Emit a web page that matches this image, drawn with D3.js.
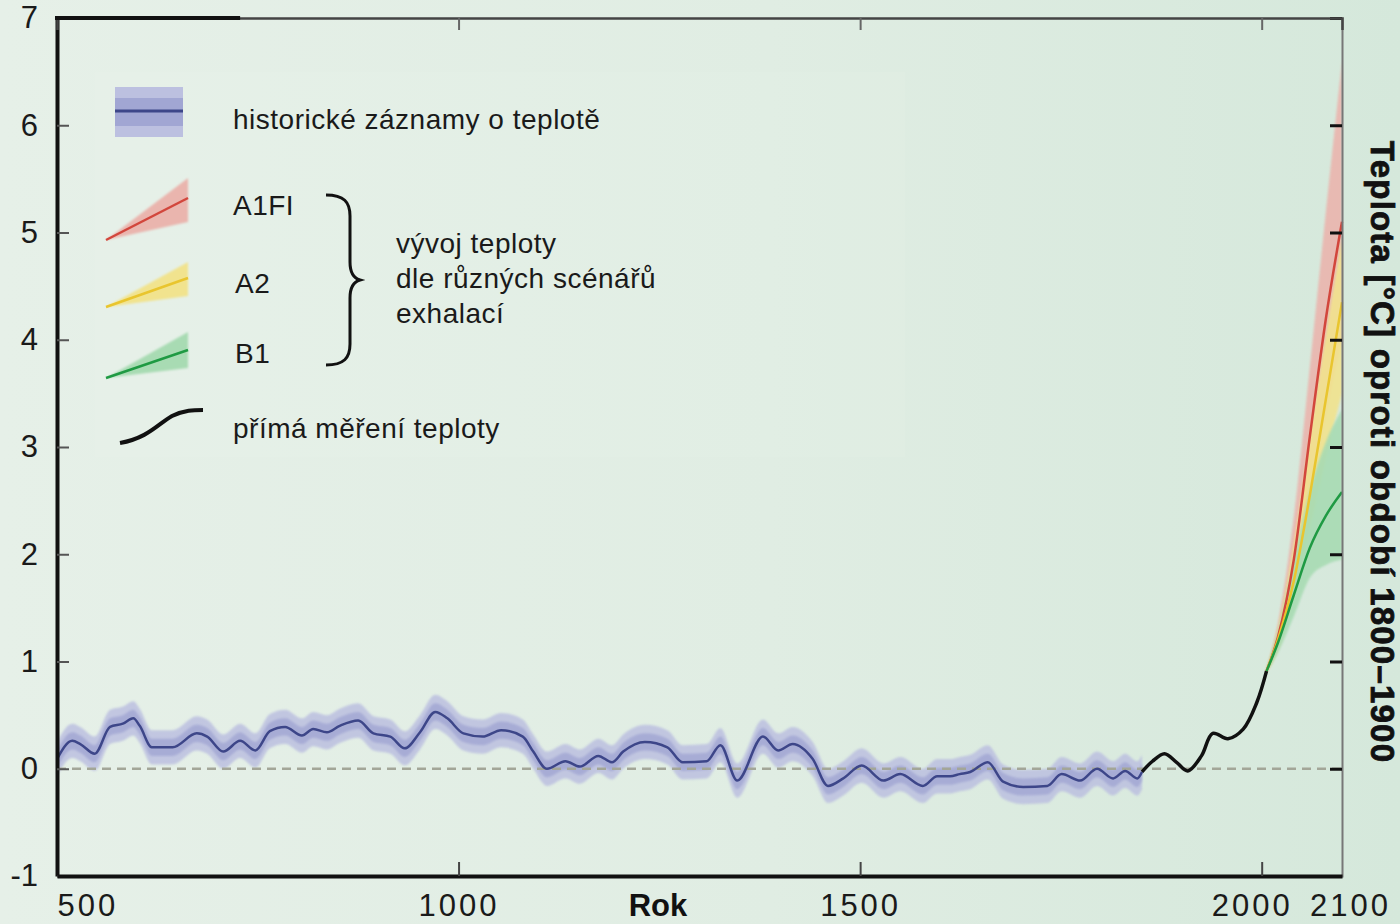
<!DOCTYPE html>
<html>
<head>
<meta charset="utf-8">
<script src="https://cdn.jsdelivr.net/npm/d3@7"></script>
<style>
  body { margin: 0; background: #e0ede3; }
  svg { display: block; font-family: "Liberation Sans", Arial, sans-serif; }
</style>
</head>
<body>
<script>
// tick labels
var xTicks = [500, 1000, 1500, 2000, 2100];
var yTicks = [-1, 0, 1, 2, 3, 4, 5, 6, 7];

// historic reconstruction (mean) and its uncertainty half-widths
var histYears = [500, 519, 529, 547, 566, 582, 595, 603, 618, 644, 674, 687, 707, 728, 747, 765, 784, 805, 819, 836,
  852, 875, 894, 915, 933, 952, 971, 986, 1006, 1030, 1053, 1080, 1093, 1110, 1133, 1151, 1174, 1191, 1205, 1232,
  1260, 1279, 1309, 1326, 1347, 1379, 1398, 1416, 1441, 1460, 1479, 1502, 1529, 1550, 1578, 1596, 1612, 1624, 1637,
  1659, 1678, 1703, 1733, 1751, 1774, 1795, 1815, 1830, 1845, 1851];
var histTemp = [0.09, 0.26, 0.23, 0.14, 0.39, 0.42, 0.47, 0.40, 0.20, 0.20, 0.33, 0.30, 0.16, 0.26, 0.17, 0.35, 0.39, 0.31, 0.37, 0.34,
  0.40, 0.45, 0.33, 0.30, 0.19, 0.34, 0.53, 0.47, 0.33, 0.30, 0.36, 0.30, 0.16, 0.00, 0.07, 0.02, 0.12, 0.06, 0.16, 0.25,
  0.20, 0.06, 0.07, 0.22, -0.11, 0.30, 0.17, 0.23, 0.09, -0.16, -0.09, 0.03, -0.11, -0.05, -0.16, -0.07, -0.07, -0.05, -0.03,
  0.06, -0.12, -0.17, -0.16, -0.05, -0.11, 0.00, -0.09, -0.02, -0.09, -0.03];
var histErrInner = 0.08;
var histErrOuter = 0.16;

// direct measurements
var measYears = [1851, 1864, 1879, 1894, 1908, 1925, 1939, 1958, 1977, 1994, 2006];
var measTemp = [-0.03, 0.07, 0.14, 0.06, -0.02, 0.12, 0.33, 0.28, 0.37, 0.62, 0.91];

// emission scenarios
var scenYears = [2006, 2020, 2040, 2060, 2080, 2100];
var a1fiMid = [0.91, 1.22, 1.95, 3.10, 4.20, 5.10];
var a1fiLow = [0.90, 1.12, 1.70, 2.50, 3.30, 4.00];
var a1fiHigh = [0.93, 1.35, 2.35, 3.75, 5.20, 6.60];
var a2Mid = [0.91, 1.20, 1.75, 2.55, 3.45, 4.35];
var a2Low = [0.90, 1.10, 1.60, 2.25, 2.90, 3.50];
var a2High = [0.93, 1.30, 2.10, 3.10, 4.05, 4.95];
var b1Mid = [0.91, 1.17, 1.62, 2.06, 2.36, 2.58];
var b1Low = [0.90, 1.08, 1.42, 1.78, 1.90, 1.95];
var b1High = [0.93, 1.28, 1.95, 2.60, 3.05, 3.35];

var W = 1400, H = 924;
var x = d3.scaleLinear().domain([500, 2100]).range([57, 1342]);
var y = d3.scaleLinear().domain([-1, 7]).range([876, 18]);

var svg = d3.select('body').append('svg').attr('width', W).attr('height', H);

var defs = svg.append('defs');
var grad = defs.append('linearGradient').attr('id', 'bg').attr('x1', 0).attr('x2', 1).attr('y1', 0).attr('y2', 0);
grad.append('stop').attr('offset', '0%').attr('stop-color', '#e6f0e8');
grad.append('stop').attr('offset', '55%').attr('stop-color', '#e0ede3');
grad.append('stop').attr('offset', '100%').attr('stop-color', '#d5e8db');
defs.append('filter').attr('id', 'soft').append('feGaussianBlur').attr('stdDeviation', 1.3);

svg.append('rect').attr('width', W).attr('height', H).attr('fill', 'url(#bg)');
// slightly lighter legend panel
svg.append('rect').attr('x', 95).attr('y', 72).attr('width', 810).attr('height', 385)
  .attr('fill', '#eef5ef').attr('opacity', 0.12);

function zip(xs, ys) { return xs.map(function (d, i) { return [d, ys[i]]; }); }
function bandData(xs, lo, hi) { return xs.map(function (d, i) { return [d, lo[i], hi[i]]; }); }

var area = d3.area().curve(d3.curveMonotoneX)
  .x(function (d) { return x(d[0]); })
  .y0(function (d) { return y(d[1]); })
  .y1(function (d) { return y(d[2]); });
var line = d3.line().curve(d3.curveMonotoneX)
  .x(function (d) { return x(d[0]); })
  .y(function (d) { return y(d[1]); });

var plot = svg.append('g');

// historic bands
var histOuter = histYears.map(function (d, i) { return [d, histTemp[i] - histErrOuter, histTemp[i] + histErrOuter]; });
var histInner = histYears.map(function (d, i) { return [d, histTemp[i] - histErrInner, histTemp[i] + histErrInner]; });
plot.append('path').datum(histOuter).attr('d', area).attr('fill', '#bcc0e0').attr('opacity', 0.85).attr('filter', 'url(#soft)');
plot.append('path').datum(histInner).attr('d', area).attr('fill', '#a1a6d3').attr('opacity', 0.8).attr('filter', 'url(#soft)');

// scenario bands
var scen = [
  {mid: a1fiMid, lo: a1fiLow, hi: a1fiHigh, band: '#eab5ae', col: '#d2463c'},
  {mid: a2Mid, lo: a2Low, hi: a2High, band: '#f1e38e', col: '#e9c52e'},
  {mid: b1Mid, lo: b1Low, hi: b1High, band: '#a8dbb3', col: '#1f9a43'}
];
scen.forEach(function (s) {
  plot.append('path').datum(bandData(scenYears, s.lo, s.hi)).attr('d', area)
    .attr('fill', s.band).attr('opacity', 0.9).attr('filter', 'url(#soft)');
});

// zero reference line
plot.append('line').attr('x1', x(500)).attr('x2', x(2100)).attr('y1', y(0)).attr('y2', y(0))
  .attr('stroke', '#a3a698').attr('stroke-width', 2.5).attr('stroke-dasharray', '9,6');

scen.forEach(function (s) {
  plot.append('path').datum(zip(scenYears, s.mid)).attr('d', line)
    .attr('fill', 'none').attr('stroke', s.col).attr('stroke-width', 2.5);
});

plot.append('path').datum(zip(histYears, histTemp)).attr('d', line)
  .attr('fill', 'none').attr('stroke', '#3d4689').attr('stroke-width', 2.5);

plot.append('path').datum(zip(measYears, measTemp)).attr('d', line.curve(d3.curveCatmullRom))
  .attr('fill', 'none').attr('stroke', '#111').attr('stroke-width', 3.5);

// axes
var leftAx = svg.append('g').attr('transform', 'translate(' + x(500) + ',0)')
  .call(d3.axisLeft(y).tickValues(yTicks).tickFormat(String).tickSizeInner(-12).tickSizeOuter(0).tickPadding(19));
leftAx.select('.domain').attr('stroke', '#111').attr('stroke-width', 4);
leftAx.selectAll('.tick line').attr('stroke', '#555').attr('stroke-width', 2);
leftAx.selectAll('.tick text').attr('font-size', 31).attr('fill', '#1a1a1a').attr('font-family', '"Liberation Sans", Arial, sans-serif');

var rightAx = svg.append('g').attr('transform', 'translate(' + x(2100) + ',0)')
  .call(d3.axisRight(y).tickValues(yTicks).tickSize(-12).tickFormat(''));
rightAx.select('.domain').attr('stroke', '#777').attr('stroke-width', 2);
rightAx.selectAll('.tick line').attr('stroke', '#111').attr('stroke-width', 3);

var topAx = svg.append('g').attr('transform', 'translate(0,' + y(7) + ')')
  .call(d3.axisTop(x).tickValues([1000, 1500, 2000]).tickSize(-12).tickFormat(''));
topAx.select('.domain').attr('stroke', '#444').attr('stroke-width', 2.5);
topAx.selectAll('.tick line').attr('stroke', '#666').attr('stroke-width', 2);
svg.append('line').attr('x1', x(500) - 2).attr('x2', x(728)).attr('y1', y(7)).attr('y2', y(7))
  .attr('stroke', '#111').attr('stroke-width', 4);

var bottomAx = svg.append('g').attr('transform', 'translate(0,' + y(-1) + ')')
  .call(d3.axisBottom(x).tickValues(xTicks).tickFormat(String).tickSizeInner(-14).tickSizeOuter(0).tickPadding(18));
bottomAx.select('.domain').attr('stroke', '#111').attr('stroke-width', 4);
bottomAx.selectAll('.tick line').attr('stroke', '#444').attr('stroke-width', 2)
  .attr('opacity', function (d) { return (d === 500 || d === 2100) ? 0 : 1; });
bottomAx.selectAll('.tick text').attr('font-size', 31).attr('letter-spacing', 3).attr('fill', '#1a1a1a')
  .attr('font-family', '"Liberation Sans", Arial, sans-serif')
  .attr('text-anchor', function (d) { return d === 500 ? 'start' : 'middle'; })
  .attr('dx', function (d) { return d === 2000 ? -10 : d === 2100 ? 8 : 0; });

// axis titles
svg.append('text').attr('x', 658).attr('y', 916).attr('text-anchor', 'middle')
  .attr('font-size', 31).attr('font-weight', 'bold').attr('fill', '#111').text('Rok');
svg.append('text').attr('transform', 'translate(1382,452) rotate(90)').attr('text-anchor', 'middle')
  .attr('dominant-baseline', 'central').attr('font-size', 33).attr('letter-spacing', 1.2)
  .attr('font-weight', 'bold').attr('fill', '#111').attr('stroke', '#111').attr('stroke-width', 0.8)
  .text('Teplota [°C] oproti období 1800–1900');

// legend
var lg = svg.append('g');
lg.append('rect').attr('x', 115).attr('y', 87).attr('width', 68).attr('height', 50).attr('fill', '#bcc0e0');
lg.append('rect').attr('x', 115).attr('y', 98).attr('width', 68).attr('height', 28).attr('fill', '#a1a6d3');
lg.append('line').attr('x1', 115).attr('x2', 183).attr('y1', 111).attr('y2', 111).attr('stroke', '#3d4689').attr('stroke-width', 3);

var sw = [
  {y0: 240, top: 178, bot: 222, end: 198, s: scen[0]},
  {y0: 307, top: 262, bot: 296, end: 278, s: scen[1]},
  {y0: 378, top: 332, bot: 368, end: 350, s: scen[2]}
];
sw.forEach(function (d) {
  lg.append('path').attr('d', 'M106,' + d.y0 + 'L188,' + d.top + 'L188,' + d.bot + 'Z')
    .attr('fill', d.s.band).attr('filter', 'url(#soft)');
  lg.append('line').attr('x1', 106).attr('y1', d.y0).attr('x2', 188).attr('y2', d.end)
    .attr('stroke', d.s.col).attr('stroke-width', 2.5);
});
lg.append('path').attr('d', 'M120,443 C148,438 158,424 172,416 C184,410 194,410 203,410')
  .attr('fill', 'none').attr('stroke', '#111').attr('stroke-width', 4);

lg.append('path').attr('d', 'M326,195 C344,195 350,202 350,216 L350,262 C350,272 353,278 360,280 C353,282 350,288 350,298 L350,344 C350,358 344,365 326,365')
  .attr('fill', 'none').attr('stroke', '#111').attr('stroke-width', 3);

var legTexts = [
  {x: 233, y: 119, t: 'historické záznamy o teplotě'},
  {x: 233, y: 205, t: 'A1FI'},
  {x: 235, y: 283, t: 'A2'},
  {x: 235, y: 353, t: 'B1'},
  {x: 396, y: 243, t: 'vývoj teploty'},
  {x: 396, y: 278, t: 'dle různých scénářů'},
  {x: 396, y: 313, t: 'exhalací'},
  {x: 233, y: 428, t: 'přímá měření teploty'}
];
lg.selectAll('text.leg').data(legTexts).enter().append('text')
  .attr('x', function (d) { return d.x; }).attr('y', function (d) { return d.y; })
  .attr('dominant-baseline', 'central').attr('font-size', 28).attr('letter-spacing', 0.5).attr('fill', '#1a1a1a')
  .text(function (d) { return d.t; });
</script>
</body>
</html>
